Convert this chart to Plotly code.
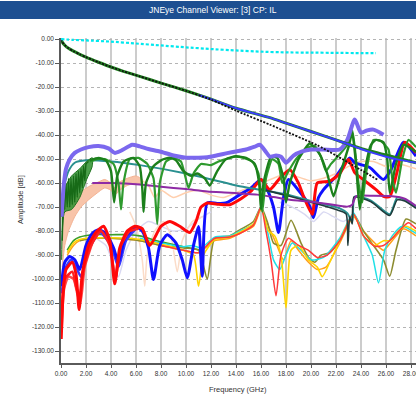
import plotly.graph_objects as go

# ---------------- axis ticks ----------------
x_ticks = [0, 2, 4, 6, 8, 10, 12, 14, 16, 18, 20, 22, 24, 26, 28]
x_tick_labels = ["%.2f" % v for v in x_ticks]
y_ticks = list(range(0, -131, -10))
y_tick_labels = ["%.2f" % v for v in y_ticks]

# ---------------- channel curves (GHz, dB) ----------------
cyan_f = [0, 1, 2, 4, 6, 8, 10, 12, 14, 16, 18, 20, 22, 24, 25.2]
cyan_db = [0, -0.3, -0.5, -1.0, -1.8, -2.6, -3.4, -4.1, -4.7, -5.2, -5.5, -5.6, -5.7, -5.8, -5.8]

il_f = [0, 0.1, 0.3, 0.6, 1, 1.5, 2, 3, 4, 5, 6.3, 8, 10, 12, 14, 16.7, 18, 20, 22, 23.1, 24, 26, 28.4]
il_db = [0, -1.2, -2.5, -3.8, -5.0, -6.3, -7.5, -9.6, -11.6, -13.4, -15.5, -18.3, -21.5, -25, -28.8,
         -32.7, -35, -38.5, -42, -44, -45.5, -48.3, -51.5]

il_blue_f = [11, 12, 14, 16.7, 18, 20, 22, 23.1, 24, 25, 26, 27, 28.4]
il_blue_db = [-23.2, -25, -28.8, -32.7, -35, -38.5, -42, -44, -45.8, -47.5, -49, -50.2, -51.5]

il_ref_f = [0, 0.1, 0.3, 0.6, 1, 1.5, 2, 3, 4, 5, 6.3, 8, 10, 12, 14, 16.7, 18, 20, 20.5, 22, 24, 25.3]
il_ref_db = [0, -1.2, -2.5, -3.8, -5.0, -6.3, -7.5, -9.6, -11.6, -13.4, -15.5, -18.3, -21.5, -25.2,
             -29.8, -35.6, -38.5, -43, -44.2, -48.5, -54.5, -58.5]

slate_f = [0.05, 0.2, 0.4, 0.7, 1.1, 1.6, 2.2, 3.0, 3.8, 4.3, 4.8, 5.7, 6.3, 7.0, 7.9, 9.0, 10.0,
           11.0, 11.7, 12.5, 13.3, 14.0, 14.8, 15.5, 15.9, 16.4, 16.7, 17.2, 17.6, 18.0, 18.6,
           19.3, 20.0, 21.0, 22.3, 22.9, 23.5, 24.0, 24.5, 25.0, 25.8]
slate_db = [-74, -62, -54, -50, -47.4, -46, -45, -44.5, -45.5, -47.4, -46.5, -44, -44.7, -45.8,
            -46.8, -48.5, -49.4, -49.4, -49.2, -48.4, -47.5, -46.8, -46, -44.8, -44, -47, -49,
            -48.5, -49, -51.5, -48.5, -46.8, -46, -46, -46, -42, -33.5, -39, -38, -37.7, -39.8]

magenta_f = [2.5, 4, 6.3, 8, 10, 11.7, 13.5, 15.7, 17, 18.3, 20, 21.5, 22.9, 23.3, 23.6, 25,
             26.5, 27.5, 28.4]
magenta_db = [-60, -60, -60.6, -61.5, -62.5, -63.5, -64, -64.8, -65.8, -66.9, -67.8, -68.8, -69.8,
              -69, -65.5, -65.3, -65.5, -66.5, -69.5]

teal_f = [0.3, 0.6, 1.1, 2, 4, 6.3, 10, 14.3, 16.7, 18.3, 20, 22.3, 22.9, 23.3, 23.5, 24.8, 26.3,
          26.9, 27.5, 28.4]
teal_db = [-60, -55, -51.5, -50.5, -51, -52.5, -56, -61.3, -63.5, -65, -67.5, -70.5, -72.5, -76,
           -65.6, -67.3, -73, -66, -67, -70]

slate_dark_f = [16, 18.3, 20, 22, 22.8, 22.95, 23.1, 23.3, 23.45, 24.8, 26.3, 26.9, 27.5, 28.4]
slate_dark_db = [-62.5, -65.5, -68, -71, -72.8, -86, -74, -77, -65.8, -67.8, -73.5, -67, -67.5, -70.5]

green_band_f = [0.05, 0.3, 0.85, 1.5, 2.05, 2.5]
green_band_hi = [-74, -62, -57, -54, -51, -49.4]
green_band_lo = [-92, -72, -71, -66, -58.5, -53]

# fast ripple inside the low-frequency green band
green_rip_f = [0.1, 0.2, 0.3, 0.4, 0.5, 0.6, 0.7, 0.8, 0.9, 1.0, 1.1, 1.2, 1.3, 1.4, 1.5, 1.6,
               1.7, 1.8, 1.9, 2.0, 2.2]
green_rip_db = [-84, -66, -71, -60, -70, -58, -70, -58, -69, -57, -68, -56, -66, -55, -64, -54,
                -62, -53, -59, -52, -51]

green_a_f = [2.3, 3.0, 3.6, 4.0, 4.25, 4.5, 5.0, 5.8, 6.3, 6.5, 6.6, 6.8, 7.4, 8.0, 8.7, 9.2,
             9.8, 10.4, 10.9, 11.5, 11.9, 12.5, 13.2, 14.0, 14.8, 15.5, 15.85, 16.0, 16.2, 16.8,
             17.3, 17.8, 18.0, 18.3, 19.0, 19.9, 20.7, 21.3, 21.8, 22.4, 23.0, 23.3, 23.6, 23.9,
             24.3, 24.8, 25.2, 25.8, 26.1, 26.3, 26.8, 27.4, 28.4]
green_a_db = [-50.5, -49.5, -50.5, -55, -68, -57, -51, -49.5, -53, -62, -72, -60, -53, -50.5, -49.4,
              -50.5, -55, -57, -56, -58, -61, -55, -50, -48.8, -49.5, -52, -60, -71, -60, -49,
              -49.5, -58, -68, -60, -50, -43.5, -48, -56, -65.5, -55, -45, -39, -52, -71, -55,
              -44, -42, -43, -50, -64, -52, -44, -47]

green_b_f = [2.3, 2.9, 3.5, 4.2, 4.6, 4.8, 5.0, 5.5, 6.2, 6.9, 7.4, 7.7, 7.9, 8.4, 9.0, 9.6,
             10.2, 10.6, 11.2, 12.0, 12.6, 13.2, 13.9, 14.6, 15.3, 15.8, 16.1, 16.4, 16.9, 17.4,
             17.7, 18.1, 18.8, 19.6, 20.3, 20.8, 21.2, 21.6, 22.3, 22.9, 23.3, 23.5, 23.8, 24.1,
             24.4, 25.0, 25.6, 26.2, 26.5, 26.8, 27.3, 27.8, 28.4]
green_b_db = [-51, -50, -50, -52, -60, -71, -60, -50, -49.5, -52, -58, -77, -60, -51, -49.5, -51,
              -62, -56, -52, -52.5, -51, -50, -49, -49.5, -51, -56, -72, -58, -50, -52, -60, -56,
              -50, -45.5, -44.5, -49, -55, -52, -48, -44, -38, -45, -60, -68, -56, -42, -42.5,
              -46, -58, -64, -50, -42, -45]

peach_band_f = [0.1, 0.3, 0.6, 1.1, 1.6, 2.2, 2.8, 3.5, 4.0, 4.3, 4.7, 5.3, 6.0, 6.5]
peach_band_hi = [-75, -70, -67, -65.5, -63.5, -61.5, -60, -58.5, -60, -62, -59.5, -58, -57, -58.5]
peach_band_lo = [-95, -86, -80, -74, -70, -67, -64.5, -62, -63, -65, -63, -61, -60, -60.5]

peach_thin_f = [6.5, 7.0, 7.5, 8.0, 9.0, 10.0, 11.0, 12.0, 13.0, 14.0, 15.0, 16.0, 17.0, 18.0,
                19.0, 20.0, 21.0, 22.0, 23.0, 24.0, 25.0, 26.0, 27.0, 28.4]
peach_thin_db = [-59, -61, -66, -63, -66, -64, -63, -65, -66, -64, -62, -60, -58, -56, -57.5, -59,
                 -58, -56, -53, -51, -51, -53, -52, -54]

peach_ghost_f = [5.5, 6.0, 6.5, 6.7, 6.9, 7.5, 8.2, 8.8, 9.3, 9.7, 10.5, 11.3]
peach_ghost_db = [-72, -78, -92, -103, -90, -80, -76, -82, -97, -84, -76, -74]

lav_a_f = [2.8, 3.6, 4.2, 4.6, 5.2, 6.0, 7.0, 8.0, 9.0, 10.0, 11.0, 12.0]
lav_a_db = [-83, -86, -94, -99, -88, -80, -76, -78, -80, -79, -75, -72]
lav_b_f = [17.5, 18.5, 19.5, 20.2, 21.0, 21.8, 22.6, 23.3]
lav_b_db = [-68, -70, -73, -76, -72, -74, -76, -73]

yellow_f = [0.5, 1, 1.5, 2.5, 4, 5.5, 6.3, 8, 9.8, 10.6, 11.0, 11.4, 12.3, 13.5, 14.3, 15.4, 16,
            16.6, 17.1, 17.6, 18.0, 18.4, 19.0, 19.8, 20.5, 20.9, 21.5, 22.3, 23.4, 24.2, 25.1,
            25.8, 26.3, 27.0, 27.6, 28.4]
yellow_db = [-89, -85, -83.5, -82.8, -82.8, -83, -83.5, -85.5, -88, -90, -103, -90, -83.5, -82.5,
             -80.5, -77, -70.5, -80, -82, -90, -112, -88, -86, -92, -95, -99, -93, -84, -73, -82,
             -86, -84, -84, -80, -78, -80]

orange_f = [0.5, 1, 1.5, 2.5, 4, 5.5, 6.3, 8, 9.8, 11, 12.3, 13.5, 14.3, 15.4, 16, 16.6, 17.2,
            17.8, 18.4, 19, 19.8, 20.5, 21.2, 22.3, 23.4, 24.2, 25.1, 25.8, 26.5, 27.4, 28.4]
orange_db = [-90, -86, -84, -83, -83, -83.5, -84, -86, -88, -89, -84, -83, -81, -78, -71, -78, -85,
             -92, -84, -88, -93, -96, -95, -85, -74, -80, -85, -88, -84, -79, -82]

olive_f = [1.5, 2.5, 4, 6.3, 8, 9.8, 11, 11.7, 12.3, 13.5, 14.3, 15.4, 16, 16.5, 17.0, 17.6, 18.4,
           19.2, 19.8, 20.3, 20.8, 21.5, 22.3, 23.4, 24.2, 25.0, 25.8, 26.3, 26.8, 27.6, 28.4]
olive_db = [-84, -83, -83, -84, -86, -87, -88, -100, -83, -82, -79.5, -76, -70, -76, -85, -86,
            -75.5, -85, -91, -93, -90, -89, -84, -73, -80, -86, -92, -98.8, -88, -75, -77]

cyan2_f = [6.3, 8, 9.8, 10.5, 11.2, 12.3, 13.5, 14.3, 15.4, 16, 16.6, 17.0, 17.5, 18.0, 18.5,
           19.2, 20, 21, 22.3, 23.4, 24.2, 24.9, 25.4, 25.9, 26.5, 27.3, 28.4]
cyan2_db = [-83, -85, -86.5, -86, -87, -82.5, -82, -80, -77, -70, -82, -92, -96, -90, -85, -88,
            -92, -91, -83, -72.5, -82, -90, -101.6, -88, -82, -78, -81]

red_thin_f = [8, 9.8, 11, 12.3, 13.5, 14.3, 15.4, 16, 16.4, 16.8, 17.2, 17.6, 18.2, 19, 19.8,
              20.5, 21.3, 22.3, 23.4, 24.2, 25.1, 25.8, 26.5, 27.2, 27.8, 28.4]
red_thin_db = [-86, -88, -89, -83, -82.5, -81, -77.5, -70, -80, -92, -107, -90, -83, -86, -88, -91,
               -90, -84, -73, -82, -86.3, -86, -83, -79, -76.5, -79]

lgreen_f = [0.5, 1, 1.5, 2.5, 4, 5.5, 6.3, 8, 9.8, 11.2]
lgreen_db = [-88, -84, -82.5, -81.5, -81.5, -81.5, -82, -84.5, -86.5, -88]

blue_f = [0.03, 0.3, 0.7, 1.1, 1.5, 2.0, 2.5, 3.0, 3.6, 4.2, 4.6, 5.1, 6.0, 6.5, 7.0, 7.4, 7.9,
          8.5, 9.2, 9.7, 10.1, 10.6, 11.0, 11.3, 11.7, 12.5, 13.3, 14.3, 15.2, 16.0, 16.5, 17.0,
          17.4, 17.8, 18.2, 19.0, 19.9, 20.2, 20.6, 21.0, 22.0, 23.1, 23.5, 24.7, 25.8, 26.4,
          27.4, 28.4]
blue_db = [-103, -93, -90.6, -92, -96, -86, -81, -79.4, -81, -87, -93, -83, -78.1, -80, -87,
           -100.2, -86, -81.5, -85, -92, -99.5, -86, -78.1, -98.8, -68.3, -68.5, -68, -64.8, -62,
           -58.5, -62.7, -70, -80.6, -66, -58.5, -63, -69.7, -74.4, -66, -62.7, -57.2, -49.5,
           -51.5, -53.5, -58.5, -54.4, -43, -48.8]

blue_b_f = [0.05, 0.4, 0.8, 1.2, 1.6, 2.2, 3.1, 4.0, 4.6, 5.2, 6.0]
blue_b_db = [-106, -95, -92, -95, -99, -88, -80.5, -86, -95, -84, -79]

red_f = [0.02, 0.15, 0.4, 0.9, 1.2, 1.45, 1.7, 2.2, 2.8, 3.4, 3.9, 4.3, 4.7, 5.3, 5.9, 6.5, 7.1,
         8.0, 8.7, 9.5, 10.3, 10.8, 11.2, 11.7, 12.5, 13.5, 14.4, 15.2, 16.0, 16.7, 17.5, 18.3,
         19.0, 19.4, 20.1, 20.5, 21.5, 22.3, 23.0, 23.5, 24.3, 25.2, 25.8, 26.3, 26.9, 27.5, 28.4]
red_db = [-125, -108, -96, -93, -98, -112.7, -98, -86, -80.5, -78, -84, -102, -87, -80, -78,
          -79, -86, -78, -76, -78, -80.6, -76, -70, -68.3, -68.8, -69, -66.5, -63.4, -58.5,
          -62.7, -58, -54.4, -60, -65.5, -73, -60, -59.2, -56, -50.2, -55.6, -59, -62.7, -65.5,
          -65.6, -55, -43, -47.3]

red_b_f = [0.05, 0.3, 0.9, 1.2, 1.5, 1.8, 2.4, 3.2, 3.9, 4.35, 4.8, 5.5, 6.2]
red_b_db = [-118, -100, -97, -103, -108, -96, -86, -80, -86, -100, -86, -80, -79]
red_c_f = [0.05, 0.25, 0.6, 1.0, 1.3, 1.55, 1.9, 2.5]
red_c_db = [-122, -104, -99, -100, -106, -110, -95, -85]

fig = go.Figure()


def curve(f, db, color, width, dash="solid", smooth=0.6, opacity=1.0):
    fig.add_trace(go.Scatter(
        x=f, y=db, mode="lines", opacity=opacity, hoverinfo="skip",
        line=dict(color=color, width=width, dash=dash, shape="spline", smoothing=smooth),
    ))


def band(f, hi, lo, color, edge):
    fig.add_trace(go.Scatter(
        x=list(f) + list(f)[::-1], y=list(hi) + list(lo)[::-1], mode="lines",
        fill="toself", fillcolor=color, hoverinfo="skip",
        line=dict(color=edge, width=1, shape="spline", smoothing=0.6),
    ))


# faint background traces
curve(lav_a_f, lav_a_db, "#d9d9f2", 1.5)
curve(lav_b_f, lav_b_db, "#d9d9f2", 1.5)
curve(peach_ghost_f, peach_ghost_db, "#fbdcc8", 1.5)

# peach group
band(peach_band_f, peach_band_hi, peach_band_lo, "#f8c4a9", "#f4b394")
curve(peach_thin_f, peach_thin_db, "#ffcfae", 1.5)

# lower bundle
curve(lgreen_f, lgreen_db, "#3a9e2a", 1.6)
curve(orange_f, orange_db, "#ff9f1a", 1.5)
curve(olive_f, olive_db, "#8c8c30", 1.6)
curve(cyan2_f, cyan2_db, "#20e0e6", 1.5)
curve(yellow_f, yellow_db, "#ffd400", 1.6)
curve(red_thin_f, red_thin_db, "#ff3a3a", 1.5)

# blue / red crosstalk
curve(blue_b_f, blue_b_db, "#3a3aff", 2.5)
curve(blue_f, blue_db, "#1010ff", 3.0)
curve(red_c_f, red_c_db, "#ff4a4a", 2.5)
curve(red_b_f, red_b_db, "#ff2020", 2.6)
curve(red_f, red_db, "#ff0808", 3.0)

# teal / magenta
curve(teal_f, teal_db, "#2a9090", 2.0)
curve(slate_dark_f, slate_dark_db, "#203c3c", 1.6)
curve(magenta_f, magenta_db, "#8e2aa5", 2.0)

# green resonances
band(green_band_f, green_band_hi, green_band_lo, "rgba(46,143,46,0.85)", "#1d731d")
curve(green_rip_f, green_rip_db, "#176a17", 1.4, smooth=0.3)
curve(green_b_f, green_b_db, "#2e9a2e", 2.2, smooth=0.5)
curve(green_a_f, green_a_db, "#1c801c", 2.4, smooth=0.5)

# slate return-loss style curve
curve(slate_f, slate_db, "#7b68ee", 4.0)

# insertion loss
curve(il_f, il_db, "#1f7f1f", 3.0)
curve(il_blue_f, il_blue_db, "#3c3cff", 2.0)
curve(il_ref_f, il_ref_db, "#111111", 1.8, dash="2px,1.5px")
curve(cyan_f, cyan_db, "#00e8ee", 2.2, dash="3px,2px")

fig.update_layout(
    width=416, height=397,
    margin=dict(l=61, r=0, t=38, b=34, autoexpand=False),
    paper_bgcolor="white", plot_bgcolor="white",
    showlegend=False,
    font=dict(family="Liberation Sans, Arial, sans-serif", color="#333333"),
    xaxis=dict(
        range=[0, 28.4], tickvals=x_ticks, ticktext=x_tick_labels,
        showgrid=True, gridcolor="#cccccc", gridwidth=1.6, griddash="solid",
        showline=True, linecolor="#5a5a5a", linewidth=1.5,
        ticks="outside", ticklen=3, tickcolor="#5a5a5a", ticklabeloverflow="allow",
        tickfont=dict(size=6.5, color="#333333"), zeroline=False,
    ),
    yaxis=dict(
        range=[-135, 0.5], tickvals=y_ticks, ticktext=y_tick_labels,
        showgrid=True, gridcolor="#b4b4b4", gridwidth=1, griddash="dot",
        showline=True, linecolor="#5a5a5a", linewidth=1.5,
        ticks="outside", ticklen=4, tickcolor="#5a5a5a", ticklabeloverflow="allow",
        tickfont=dict(size=6.5, color="#333333"), zeroline=False,
    ),
    shapes=[dict(
        type="rect", xref="paper", yref="paper",
        x0=-61 / 355, x1=1.0, y0=(363 - 19) / 325, y1=(363 - 1) / 325,
        fillcolor="#1d4f91", line=dict(width=0), layer="above",
    )],
    annotations=[
        dict(text="JNEye Channel Viewer: [3] CP: IL", xref="paper", yref="paper",
             x=(213 - 61) / 355, y=(363 - 10) / 325, showarrow=False,
             font=dict(size=8.5, color="white"), xanchor="center", yanchor="middle"),
        dict(text="Amplitude [dB]", xref="paper", yref="paper",
             x=(20 - 61) / 355, y=(363 - 200) / 325, showarrow=False, textangle=-90,
             font=dict(size=7.5, color="#333333"), xanchor="center", yanchor="middle"),
        dict(text="Frequency (GHz)", xref="paper", yref="paper",
             x=(238 - 61) / 355, y=(363 - 389) / 325, showarrow=False,
             font=dict(size=7.5, color="#333333"), xanchor="center", yanchor="middle"),
    ],
)

fig.write_html("out.html")
